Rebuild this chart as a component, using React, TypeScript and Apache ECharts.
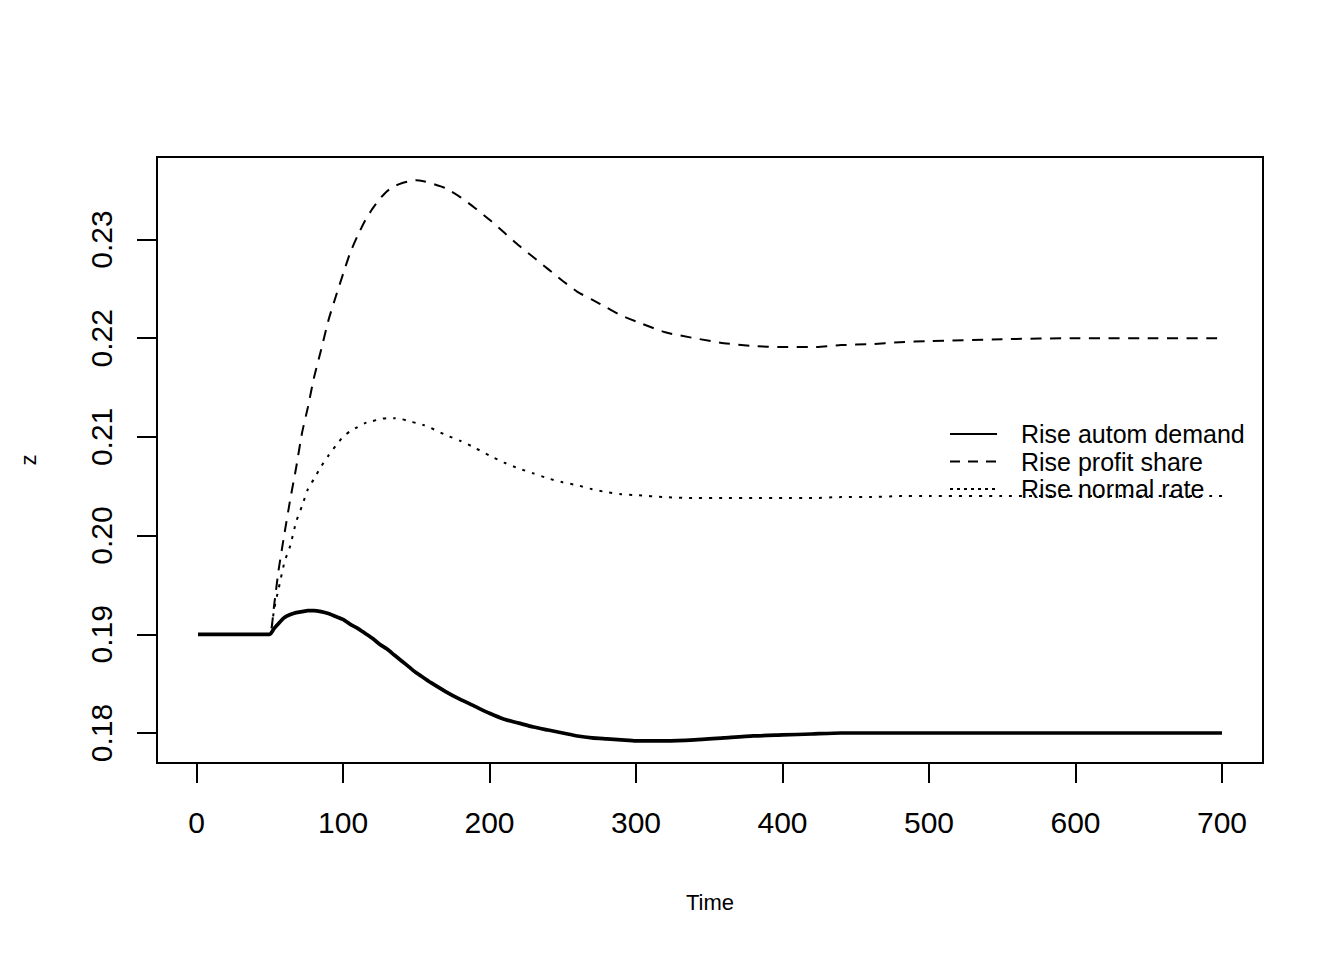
import React, { useEffect, useRef } from "react";
import * as echarts from "echarts";

const TIME = [1, 45, 50, 53, 56, 60, 64, 68, 72, 76, 80, 85, 90, 95, 100, 105, 110, 115, 120, 125, 130, 135, 140, 145, 150, 155, 160, 170, 180, 190, 200, 210, 220, 230, 240, 250, 260, 270, 280, 290, 300, 320, 340, 360, 380, 400, 420, 440, 460, 480, 500, 550, 600, 650, 700];

const RISE_AUTOM_DEMAND = [0.19, 0.19, 0.19, 0.1906, 0.1911, 0.1917, 0.192, 0.1922, 0.1923, 0.1924, 0.1924, 0.1923, 0.1921, 0.1918, 0.1915, 0.191, 0.1906, 0.1901, 0.1896, 0.189, 0.1885, 0.1879, 0.1873, 0.1867, 0.1861, 0.1856, 0.1851, 0.1842, 0.1834, 0.1827, 0.182, 0.1814, 0.181, 0.1806, 0.1803, 0.18, 0.1797, 0.1795, 0.1794, 0.1793, 0.1792, 0.1792, 0.1793, 0.1795, 0.1797, 0.1798, 0.1799, 0.18, 0.18, 0.18, 0.18, 0.18, 0.18, 0.18, 0.18];

const RISE_PROFIT_SHARE = [0.19, 0.19, 0.19, 0.193, 0.1965, 0.2002, 0.2037, 0.2069, 0.2104, 0.213, 0.2159, 0.2188, 0.2218, 0.2242, 0.2265, 0.2287, 0.2304, 0.2319, 0.2331, 0.2341, 0.2349, 0.2354, 0.2357, 0.2359, 0.236, 0.2359, 0.2357, 0.2352, 0.2343, 0.2332, 0.232, 0.2307, 0.2294, 0.2282, 0.227, 0.2258, 0.2247, 0.2239, 0.2231, 0.2223, 0.2217, 0.2206, 0.22, 0.2195, 0.2192, 0.2191, 0.2191, 0.2193, 0.2194, 0.2196, 0.2197, 0.2199, 0.22, 0.22, 0.22];

const RISE_NORMAL_RATE = [0.19, 0.19, 0.19, 0.1926, 0.1946, 0.1973, 0.199, 0.2014, 0.203, 0.2047, 0.2057, 0.207, 0.2081, 0.2091, 0.21, 0.2106, 0.211, 0.2114, 0.2116, 0.2118, 0.2119, 0.2119, 0.2118, 0.2116, 0.2114, 0.2112, 0.2109, 0.2102, 0.2096, 0.2089, 0.2081, 0.2074, 0.2068, 0.2063, 0.2058, 0.2054, 0.2051, 0.2047, 0.2044, 0.2042, 0.2041, 0.2039, 0.2038, 0.2038, 0.2038, 0.2038, 0.2038, 0.2039, 0.2039, 0.204, 0.204, 0.204, 0.204, 0.204, 0.204];

const X_TICKS = [0, 100, 200, 300, 400, 500, 600, 700];
const Y_TICKS = [0.18, 0.19, 0.2, 0.21, 0.22, 0.23];
const LEGEND_LABELS = ["Rise autom demand", "Rise profit share", "Rise normal rate"];
const X_NAME = "Time";
const Y_NAME = "z";

const FONT = "'Liberation Sans', Arial, Helvetica, sans-serif";

function pairs(values: number[]) {
  return TIME.map((t, i) => [t, values[i]]);
}

export default function App() {
  const ref = useRef<HTMLDivElement>(null);

  useEffect(() => {
    if (!ref.current) return;
    const chart = echarts.init(ref.current, undefined, { renderer: "svg" });

    const legendRows = [434, 461.5, 489];
    const legendDash: any[] = [null, [10, 8], [3, 4]];
    const graphic: any[] = [];
    LEGEND_LABELS.forEach((label, i) => {
      graphic.push({
        type: "line",
        shape: { x1: 950, y1: legendRows[i], x2: 997, y2: legendRows[i] },
        style: {
          stroke: "#000",
          lineWidth: 1.8,
          lineDash: legendDash[i] || undefined,
        },
        silent: true,
      });
      graphic.push({
        type: "text",
        x: 1021,
        y: legendRows[i],
        style: {
          text: label,
          fontSize: 25,
          lineHeight: 25,
          fontFamily: FONT,
          fill: "#000",
          align: "left",
          verticalAlign: "middle",
        },
        silent: true,
      });
    });

    const option: any = {
      animation: false,
      backgroundColor: "#fff",
      grid: {
        left: 157,
        top: 157,
        right: 81,
        bottom: 197,
        show: true,
        borderColor: "#000",
        borderWidth: 2,
        backgroundColor: "transparent",
      },
      xAxis: {
        type: "value",
        min: -27,
        max: 728,
        name: X_NAME,
        nameLocation: "middle",
        nameGap: 128,
        nameTextStyle: { fontSize: 22, fontFamily: FONT, color: "#000" },
        axisLine: { show: false, onZero: false },
        splitLine: { show: false },
        axisTick: {
          show: true,
          length: 20,
          inside: false,
          customValues: X_TICKS,
          lineStyle: { color: "#000", width: 2 },
        },
        axisLabel: {
          customValues: X_TICKS,
          fontSize: 30,
          fontFamily: FONT,
          color: "#000",
          margin: 44,
        },
      },
      yAxis: {
        type: "value",
        min: 0.17696,
        max: 0.23836,
        name: Y_NAME,
        nameLocation: "middle",
        nameRotate: 90,
        nameGap: 118,
        nameTextStyle: { fontSize: 22, fontFamily: FONT, color: "#000" },
        axisLine: { show: false, onZero: false },
        splitLine: { show: false },
        axisTick: {
          show: true,
          length: 20,
          inside: false,
          customValues: Y_TICKS,
          lineStyle: { color: "#000", width: 2 },
        },
        axisLabel: {
          customValues: Y_TICKS,
          rotate: 90,
          fontSize: 30,
          fontFamily: FONT,
          color: "#000",
          margin: 41,
          formatter: (v: number) => v.toFixed(2),
        },
      },
      series: [
        {
          name: LEGEND_LABELS[0],
          type: "line",
          data: pairs(RISE_AUTOM_DEMAND),
          showSymbol: false,
          symbol: "none",
          smooth: 0.2,
          lineStyle: { color: "#000", width: 3.7, type: "solid" },
          silent: true,
        },
        {
          name: LEGEND_LABELS[1],
          type: "line",
          data: pairs(RISE_PROFIT_SHARE),
          showSymbol: false,
          symbol: "none",
          smooth: 0.2,
          lineStyle: { color: "#000", width: 2, type: [11, 8.5] },
          silent: true,
        },
        {
          name: LEGEND_LABELS[2],
          type: "line",
          data: pairs(RISE_NORMAL_RATE),
          showSymbol: false,
          symbol: "none",
          smooth: 0.2,
          lineStyle: { color: "#000", width: 2, type: [3, 7] },
          silent: true,
        },
      ],
      graphic,
    };

    chart.setOption(option);
    return () => chart.dispose();
  }, []);

  return (
    <div
      ref={ref}
      style={{ position: "absolute", left: 0, top: 0, width: 1344, height: 960, background: "#fff" }}
    />
  );
}
